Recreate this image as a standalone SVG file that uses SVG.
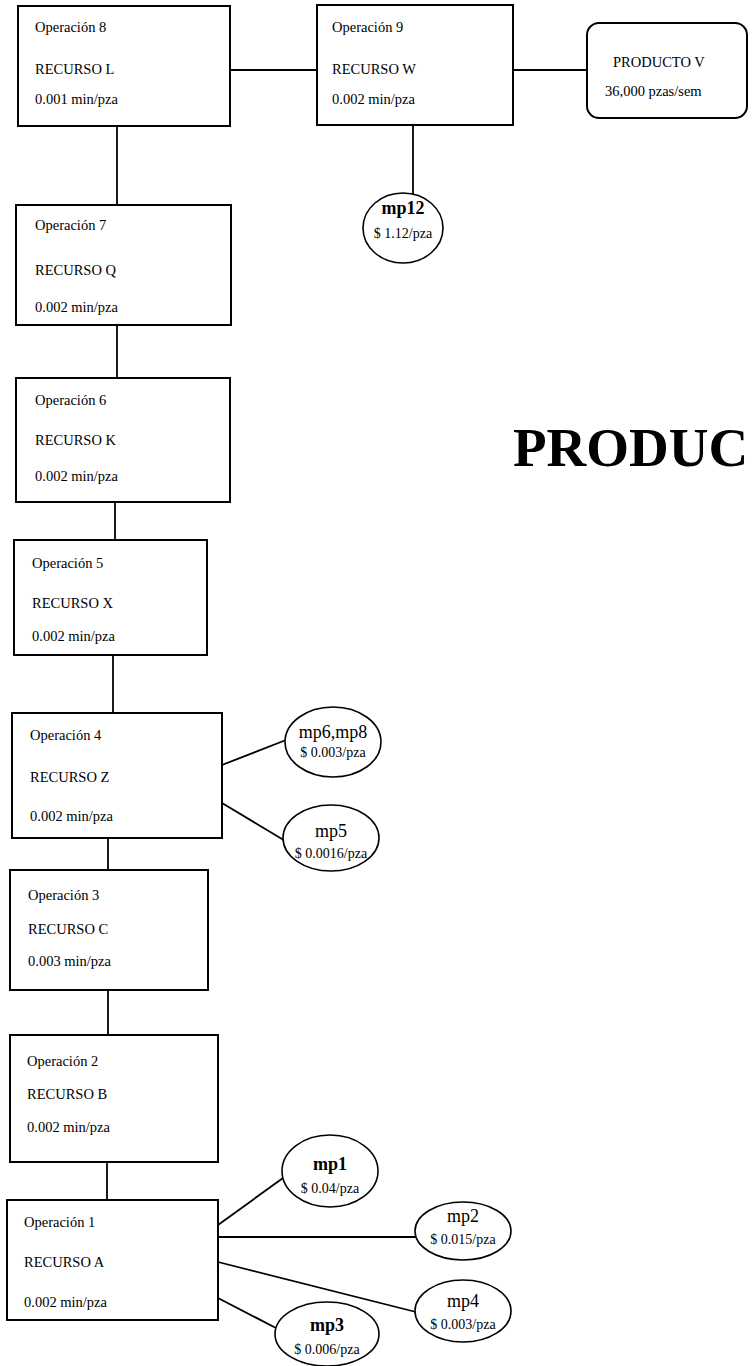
<svg xmlns="http://www.w3.org/2000/svg" width="752" height="1366" viewBox="0 0 752 1366">
  <style>
    .box { fill: #ffffff; stroke: #000000; stroke-width: 2; }
    .mp { fill: #ffffff; stroke: #000000; stroke-width: 1.6; }
    .link { fill: none; stroke: #000000; stroke-width: 1.8; }
    text { font-family: "Liberation Serif", "Times New Roman", serif; fill: #000000; }
    .t { font-size: 14.5px; }
    .h { font-size: 18px; text-anchor: middle; }
    .hb { font-size: 18px; font-weight: bold; text-anchor: middle; }
    .c { font-size: 14px; text-anchor: middle; }
    .title { font-size: 55px; font-weight: bold; }
  </style>
  <rect width="752" height="1366" fill="#ffffff"/>

  <!-- connectors -->
  <g id="connectors">
    <line class="link" x1="230" y1="70" x2="317" y2="70"/>
    <line class="link" x1="513" y1="70" x2="587" y2="70"/>
    <line class="link" x1="413" y1="125" x2="413" y2="194"/>
    <line class="link" x1="117" y1="126" x2="117" y2="205"/>
    <line class="link" x1="117" y1="325" x2="117" y2="378"/>
    <line class="link" x1="115" y1="502" x2="115" y2="540"/>
    <line class="link" x1="113" y1="655" x2="113" y2="713"/>
    <line class="link" x1="108" y1="838" x2="108" y2="870"/>
    <line class="link" x1="108" y1="990" x2="108" y2="1035"/>
    <line class="link" x1="107" y1="1162" x2="107" y2="1200"/>
    <line class="link" x1="222" y1="765" x2="286" y2="740"/>
    <line class="link" x1="222" y1="803" x2="287" y2="842"/>
    <line class="link" x1="218" y1="1225" x2="283" y2="1178"/>
    <line class="link" x1="218" y1="1237" x2="416" y2="1237"/>
    <line class="link" x1="218" y1="1262" x2="416" y2="1312"/>
    <line class="link" x1="218" y1="1298" x2="276" y2="1328"/>
  </g>

  <!-- operations -->
  <g id="op8">
    <rect class="box" x="18" y="6" width="212" height="120"/>
    <text class="t" x="35" y="32">Operación 8</text>
    <text class="t" x="35" y="74">RECURSO L</text>
    <text class="t" x="35" y="104">0.001 min/pza</text>
  </g>
  <g id="op9">
    <rect class="box" x="317" y="5" width="196" height="120"/>
    <text class="t" x="332" y="32">Operación 9</text>
    <text class="t" x="332" y="74">RECURSO W</text>
    <text class="t" x="332" y="104">0.002 min/pza</text>
  </g>
  <g id="producto">
    <rect class="box" x="587" y="23" width="160" height="95" rx="12" ry="12"/>
    <text class="t" x="613" y="67">PRODUCTO V</text>
    <text class="t" x="605" y="96">36,000 pzas/sem</text>
  </g>
  <g id="op7">
    <rect class="box" x="16" y="205" width="215" height="120"/>
    <text class="t" x="35" y="230">Operación 7</text>
    <text class="t" x="35" y="275">RECURSO Q</text>
    <text class="t" x="35" y="312">0.002 min/pza</text>
  </g>
  <g id="op6">
    <rect class="box" x="16" y="378" width="214" height="124"/>
    <text class="t" x="35" y="405">Operación 6</text>
    <text class="t" x="35" y="445">RECURSO K</text>
    <text class="t" x="35" y="481">0.002 min/pza</text>
  </g>
  <g id="op5">
    <rect class="box" x="14" y="540" width="193" height="115"/>
    <text class="t" x="32" y="568">Operación 5</text>
    <text class="t" x="32" y="608">RECURSO X</text>
    <text class="t" x="32" y="641">0.002 min/pza</text>
  </g>
  <g id="op4">
    <rect class="box" x="12" y="713" width="210" height="125"/>
    <text class="t" x="30" y="740">Operación 4</text>
    <text class="t" x="30" y="782">RECURSO Z</text>
    <text class="t" x="30" y="821">0.002 min/pza</text>
  </g>
  <g id="op3">
    <rect class="box" x="10" y="870" width="198" height="120"/>
    <text class="t" x="28" y="900">Operación 3</text>
    <text class="t" x="28" y="934">RECURSO C</text>
    <text class="t" x="28" y="966">0.003 min/pza</text>
  </g>
  <g id="op2">
    <rect class="box" x="10" y="1035" width="208" height="127"/>
    <text class="t" x="27" y="1066">Operación 2</text>
    <text class="t" x="27" y="1099">RECURSO B</text>
    <text class="t" x="27" y="1132">0.002 min/pza</text>
  </g>
  <g id="op1">
    <rect class="box" x="7" y="1200" width="211" height="120"/>
    <text class="t" x="24" y="1227">Operación 1</text>
    <text class="t" x="24" y="1267">RECURSO A</text>
    <text class="t" x="24" y="1307">0.002 min/pza</text>
  </g>

  <!-- raw materials -->
  <g id="mp12">
    <ellipse class="mp" cx="403" cy="228" rx="40" ry="35"/>
    <text class="hb" x="403" y="214">mp12</text>
    <text class="c" x="403" y="238">$ 1.12/pza</text>
  </g>
  <g id="mp6mp8">
    <ellipse class="mp" cx="333" cy="742" rx="48" ry="35"/>
    <text class="h" x="333" y="738">mp6,mp8</text>
    <text class="c" x="333" y="757">$ 0.003/pza</text>
  </g>
  <g id="mp5">
    <ellipse class="mp" cx="331" cy="838" rx="48" ry="33"/>
    <text class="h" x="331" y="837">mp5</text>
    <text class="c" x="331" y="858">$ 0.0016/pza</text>
  </g>
  <g id="mp1">
    <ellipse class="mp" cx="330" cy="1171" rx="48" ry="36"/>
    <text class="hb" x="330" y="1170">mp1</text>
    <text class="c" x="330" y="1193">$ 0.04/pza</text>
  </g>
  <g id="mp2">
    <ellipse class="mp" cx="463" cy="1231" rx="48" ry="29"/>
    <text class="h" x="463" y="1222">mp2</text>
    <text class="c" x="463" y="1244">$ 0.015/pza</text>
  </g>
  <g id="mp4">
    <ellipse class="mp" cx="463" cy="1311" rx="48" ry="31"/>
    <text class="h" x="463" y="1307">mp4</text>
    <text class="c" x="463" y="1329">$ 0.003/pza</text>
  </g>
  <g id="mp3">
    <ellipse class="mp" cx="327" cy="1334" rx="52" ry="32"/>
    <text class="hb" x="327" y="1331">mp3</text>
    <text class="c" x="327" y="1354">$ 0.006/pza</text>
  </g>

  <!-- page title at the right edge -->
  <text class="title" x="513" y="466">PRODUC</text>
</svg>
